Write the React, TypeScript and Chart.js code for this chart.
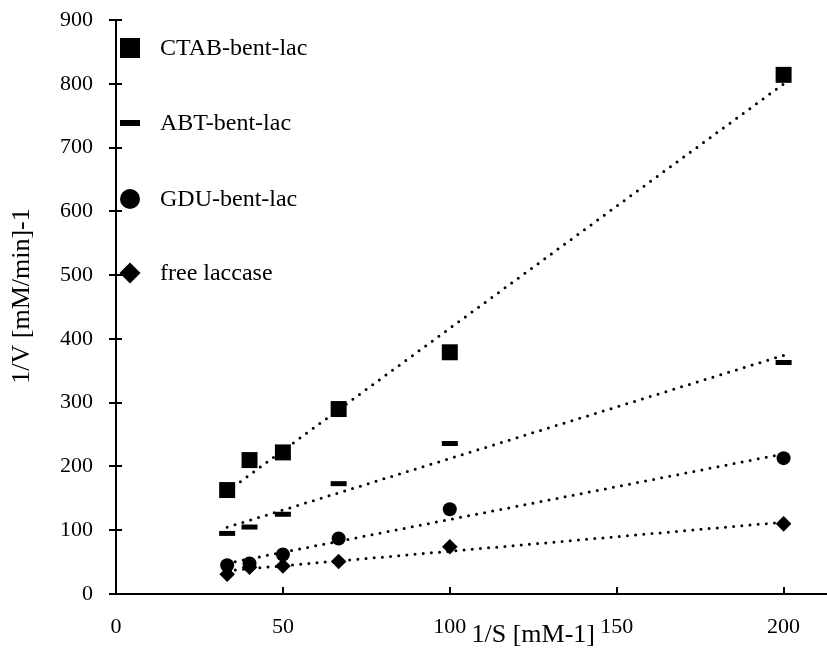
import React, { useEffect, useRef } from "react";
import { Chart, registerables } from "chart.js";

Chart.register(...registerables);

// ---- data ----
const xValues = [33.3, 40, 50, 66.7, 100, 200];
const ctabValues = [163, 210, 222, 290, 379, 814];
const abtValues = [95, 105, 125, 173, 236, 363];
const gduValues = [45, 48, 62, 87, 133, 213];
const freeValues = [31, 42, 44, 51, 74, 110];
const seriesLabels = ["CTAB-bent-lac", "ABT-bent-lac", "GDU-bent-lac", "free laccase"];
const xTitle = "1/S [mM-1]";
const yTitle = "1/V [mM/min]-1";

const FONT = '"Liberation Serif", "Times New Roman", serif';

function toPoints(xs: number[], ys: number[]) {
  return xs.map((x, i) => ({ x, y: ys[i] }));
}

function linearFit(xs: number[], ys: number[]) {
  const n = xs.length;
  const mx = xs.reduce((a, b) => a + b, 0) / n;
  const my = ys.reduce((a, b) => a + b, 0) / n;
  let sxy = 0;
  let sxx = 0;
  for (let i = 0; i < n; i++) {
    sxy += (xs[i] - mx) * (ys[i] - my);
    sxx += (xs[i] - mx) * (xs[i] - mx);
  }
  const slope = sxy / sxx;
  const intercept = my - slope * mx;
  const x0 = Math.min(...xs);
  const x1 = Math.max(...xs);
  return [
    { x: x0, y: intercept + slope * x0 },
    { x: x1, y: intercept + slope * x1 },
  ];
}

const seriesValues = [ctabValues, abtValues, gduValues, freeValues];
const pointStyles = ["rect", "line", "circle", "rectRot"];
const pointRadii = [11.3, 8, 7, 7.8];
const pointBorders = [0, 5, 0, 0];

const decorPlugin = {
  id: "customDecor",
  afterDraw(chart: any) {
    const { ctx, chartArea } = chart;
    const xs = chart.scales.x;
    const ys = chart.scales.y;
    const left = Math.round(chartArea.left);
    const bottom = Math.round(chartArea.bottom);
    ctx.save();
    ctx.strokeStyle = "#000";
    ctx.fillStyle = "#000";
    ctx.lineWidth = 2;
    // axes
    ctx.beginPath();
    ctx.moveTo(left, chartArea.top);
    ctx.lineTo(left, bottom);
    ctx.moveTo(left - 7, bottom);
    ctx.lineTo(chartArea.right, bottom);
    ctx.stroke();
    // y ticks (cross)
    ctx.beginPath();
    ys.ticks.forEach((t: any) => {
      const py = Math.round(ys.getPixelForValue(t.value));
      ctx.moveTo(left - 7, py);
      ctx.lineTo(left + 6, py);
    });
    // x ticks (inside)
    xs.ticks.forEach((t: any) => {
      if (t.value === 0) return;
      const px = Math.round(xs.getPixelForValue(t.value));
      ctx.moveTo(px, bottom);
      ctx.lineTo(px, bottom - 7);
    });
    ctx.stroke();

    // legend
    const mx = left + 14;
    const tx = left + 44;
    const rowYs = [28, 103, 179, 253].map((d) => chartArea.top + d);
    ctx.font = `24px ${FONT}`;
    ctx.textBaseline = "middle";
    ctx.textAlign = "left";
    seriesLabels.forEach((label, i) => {
      const cy = rowYs[i];
      ctx.beginPath();
      if (i === 0) {
        ctx.fillRect(mx - 10, cy - 10, 20, 20);
      } else if (i === 1) {
        ctx.fillRect(mx - 10, cy - 3, 20, 6);
      } else if (i === 2) {
        ctx.arc(mx, cy, 10, 0, Math.PI * 2);
        ctx.fill();
      } else {
        ctx.moveTo(mx, cy - 10.5);
        ctx.lineTo(mx + 10.5, cy);
        ctx.lineTo(mx, cy + 10.5);
        ctx.lineTo(mx - 10.5, cy);
        ctx.closePath();
        ctx.fill();
      }
      ctx.fillText(label, tx, cy + 1);
    });

    // axis titles
    ctx.font = `26px ${FONT}`;
    ctx.textAlign = "center";
    ctx.textBaseline = "middle";
    ctx.fillText(xTitle, xs.getPixelForValue(125), 635);
    ctx.save();
    ctx.translate(22, 296);
    ctx.rotate(-Math.PI / 2);
    ctx.fillText(yTitle, 0, 0);
    ctx.restore();
    ctx.restore();
  },
};

export default function App() {
  const canvasRef = useRef<HTMLCanvasElement | null>(null);

  useEffect(() => {
    document.body.style.margin = "0";
    const canvas = canvasRef.current;
    if (!canvas) return;

    const pointSets: any[] = seriesValues.map((ys, i) => ({
      label: seriesLabels[i],
      data: toPoints(xValues, ys),
      showLine: false,
      pointStyle: pointStyles[i],
      pointRadius: pointRadii[i],
      pointBorderWidth: pointBorders[i],
      backgroundColor: "#000",
      borderColor: "#000",
      order: 1,
    }));
    const trendSets: any[] = seriesValues.map((ys, i) => ({
      label: seriesLabels[i] + " trend",
      data: linearFit(xValues, ys),
      showLine: true,
      pointRadius: 0,
      borderColor: "#000",
      borderWidth: 3,
      borderDash: [0, 8.2],
      borderCapStyle: "round",
      fill: false,
      order: 2,
    }));

    const chart = new Chart(canvas, {
      type: "scatter",
      data: { datasets: [...trendSets, ...pointSets] },
      options: {
        animation: false,
        responsive: false,
        devicePixelRatio: 1,
        layout: { autoPadding: false, padding: { top: 20, right: 0, bottom: 0, left: 0 } },
        plugins: {
          legend: { display: false },
          tooltip: { enabled: false },
        },
        scales: {
          x: {
            type: "linear",
            min: 0,
            max: 213,
            grid: { display: false, drawTicks: false },
            border: { display: false },
            ticks: {
              stepSize: 50,
              includeBounds: false,
              padding: 20,
              color: "#000",
              font: { family: FONT, size: 22 },
            },
            afterFit: (s: any) => {
              s.height = 69;
              s.paddingLeft = 0;
              s.paddingRight = 0;
            },
          },
          y: {
            type: "linear",
            min: 0,
            max: 900,
            grid: { display: false, drawTicks: false },
            border: { display: false },
            ticks: {
              stepSize: 100,
              padding: 23,
              color: "#000",
              font: { family: FONT, size: 22 },
            },
            afterFit: (s: any) => {
              s.width = 116;
              s.paddingTop = 0;
              s.paddingBottom = 0;
            },
          },
        },
      } as any,
      plugins: [decorPlugin],
    });

    return () => chart.destroy();
  }, []);

  return (
    <div style={{ width: 827, height: 663 }}>
      <canvas ref={canvasRef} width={827} height={663} />
    </div>
  );
}
